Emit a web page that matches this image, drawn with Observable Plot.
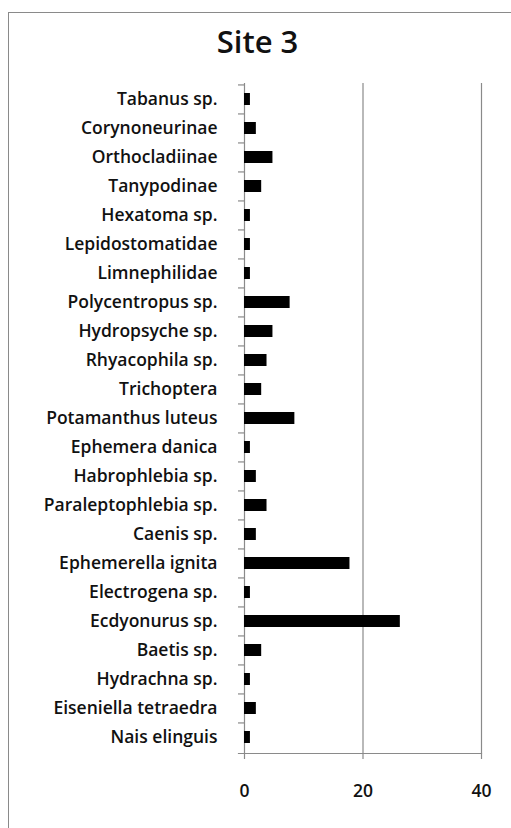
<!DOCTYPE html>
<html>
<head>
<meta charset="utf-8">
<script src="https://cdn.jsdelivr.net/npm/d3@7"></script>
<script src="https://cdn.jsdelivr.net/npm/@observablehq/plot@0.6"></script>
<style>
  html, body { margin: 0; padding: 0; background: #fff; overflow: hidden; }
  #wrap { position: relative; width: 511px; height: 828px; }
  #frame { position: absolute; left: 8px; top: 12px; width: 600px; height: 900px;
           border-left: 1.5px solid #8a8a8a; border-top: 1.5px solid #8a8a8a; }
  #title { position: absolute; left: 0; width: 515px; top: 20px; text-align: center;
           font-family: "Open Sans", sans-serif; font-weight: 600; font-size: 31px; color: #111; }
  #chart { position: absolute; left: 0; top: 0; }
</style>
</head>
<body>
<div id="wrap">
  <div id="frame"></div>
  <div id="title">Site 3</div>
  <div id="chart"></div>
</div>
<script>
const taxa = [
  "Tabanus sp.", "Corynoneurinae", "Orthocladiinae", "Tanypodinae", "Hexatoma sp.",
  "Lepidostomatidae", "Limnephilidae", "Polycentropus sp.", "Hydropsyche sp.", "Rhyacophila sp.",
  "Trichoptera", "Potamanthus luteus", "Ephemera danica", "Habrophlebia sp.", "Paraleptophlebia sp.",
  "Caenis sp.", "Ephemerella ignita", "Electrogena sp.", "Ecdyonurus sp.", "Baetis sp.",
  "Hydrachna sp.", "Eiseniella tetraedra", "Nais elinguis"
];
const values = [
  1, 2, 4.8, 2.9, 1,
  1, 1, 7.7, 4.8, 3.8,
  2.9, 8.5, 1, 2, 3.8,
  2, 17.8, 1, 26.3, 2.9,
  1, 2, 1
];
const xTicks = [0, 20, 40];

const data = taxa.map((t, i) => ({taxon: t, value: values[i]}));

const W = 511, H = 828;
const mTop = 83, mBottom = 75, mLeft = 244, mRight = 30;
const step = (H - mTop - mBottom) / taxa.length;
const grid = "#8a8a8a";
const font = "'Open Sans', sans-serif";

const chart = Plot.plot({
  width: W, height: H,
  marginTop: mTop, marginBottom: mBottom, marginLeft: mLeft, marginRight: mRight,
  style: {fontFamily: font, fontSize: "17.5px", fontWeight: "600", color: "#111", background: "transparent"},
  x: {domain: [0, 40], axis: null, label: null},
  y: {domain: taxa, paddingInner: 0.58, paddingOuter: 0.29, axis: null, label: null},
  marks: [
    Plot.ruleX([20, 40], {stroke: grid, strokeWidth: 1.2}),
    Plot.ruleX([0], {stroke: grid, strokeWidth: 1.2}),
    Plot.frame({anchor: "bottom", stroke: grid, strokeWidth: 1.2, insetLeft: -6}),
    Plot.axisY({tickSize: 6, text: null, label: null, stroke: grid, strokeWidth: 1.2, dy: -step / 2}),
    Plot.axisY({tickSize: 0, tickPadding: 27, label: null, fontSize: 17.5, fontWeight: 600, fill: "#111"}),
    Plot.axisX({ticks: xTicks, tickSize: 6, label: null, stroke: grid, strokeWidth: 1.2, tickPadding: 25, fontSize: 17.5, fontWeight: 600, fill: "#111", tickFormat: d => String(d)}),
    Plot.barX(data, {x: "value", y: "taxon", fill: "#000"})
  ]
});
document.getElementById("chart").appendChild(chart);
</script>
</body>
</html>
